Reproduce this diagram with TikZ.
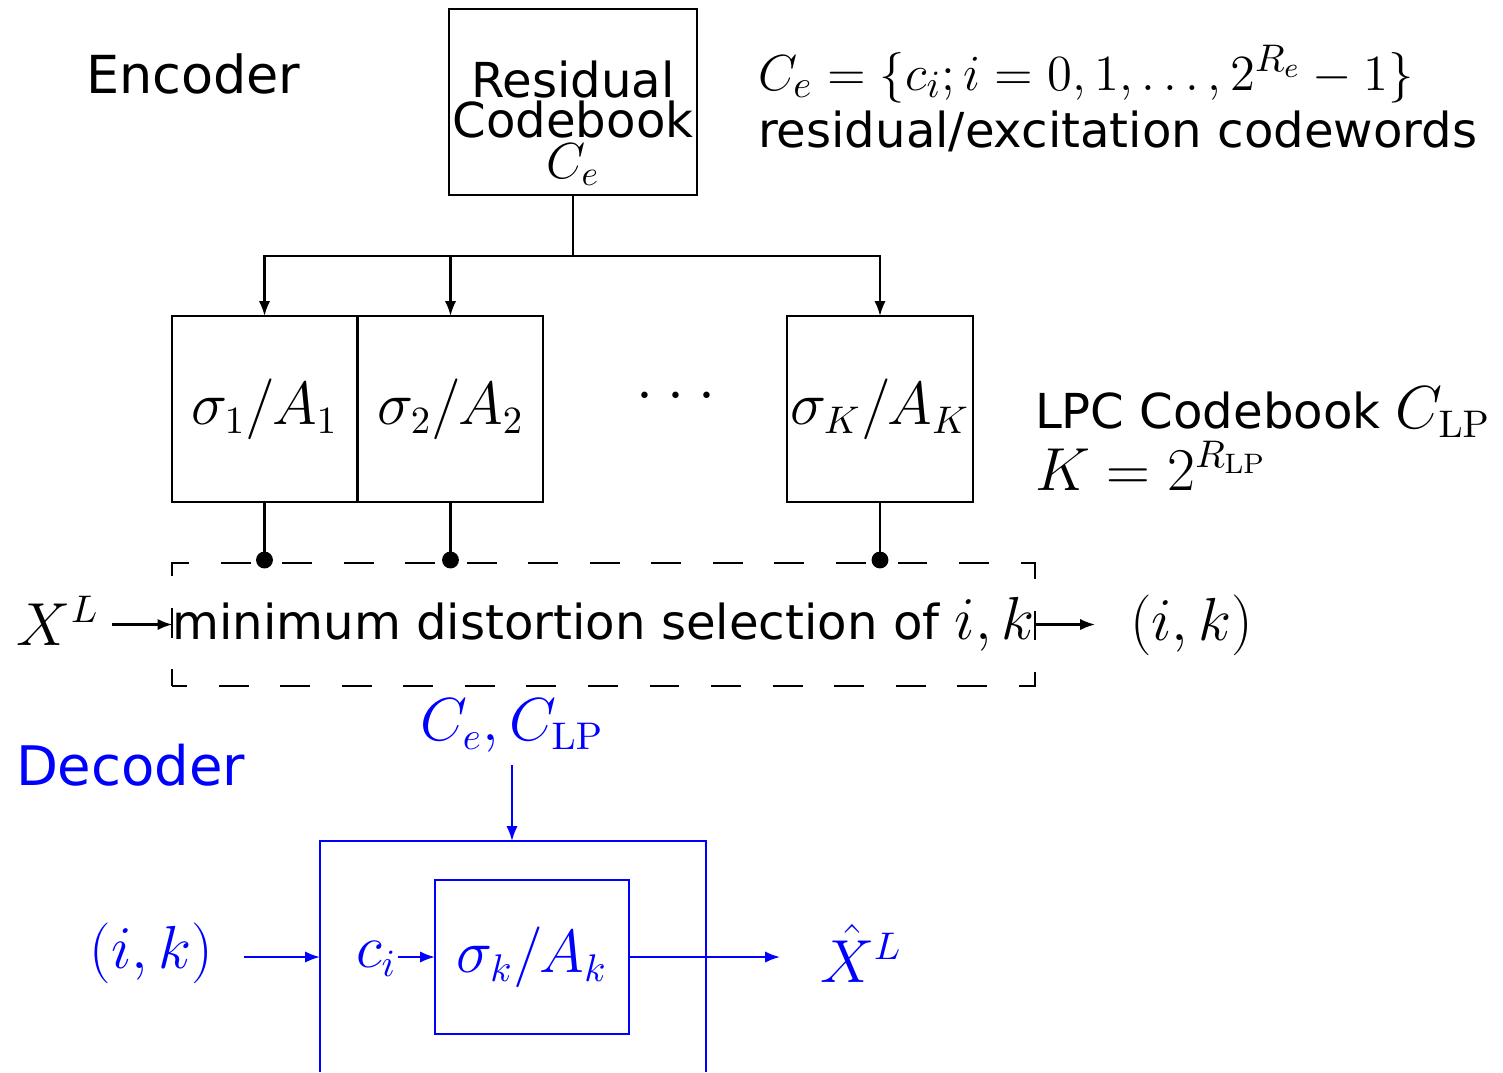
\documentclass[tikz,border=0pt]{standalone}
\usepackage[no-math]{fontspec}
\setmainfont{DejaVu Sans}
\usetikzlibrary{arrows.meta}
\newcommand{\mbg}[1]{{\fontsize{16.2}{18}\selectfont$#1$}}
\begin{document}
\begin{tikzpicture}[x=0.01cm,y=-0.01cm,
  every node/.style={inner sep=0pt, outer sep=0pt},
  txt/.style={font=\fontsize{13.7}{16}\selectfont},
  mth/.style={font=\fontsize{16.2}{18}\selectfont},
  blk/.style={draw, line width=0.65pt},
  wire/.style={line width=0.6pt},
  arr/.style={wire, -{Latex[length=4.2pt,width=3.2pt]}},
  dotnode/.style={circle, fill, minimum size=4.8pt},
  dec/.style={blue},
]
\useasboundingbox (0,0) rectangle (1503,1072);

% ---------------- Encoder ----------------
\node[anchor=base west, font=\fontsize{14.9}{17}\selectfont] (enc) at (86,93) {Encoder};

\node[blk, minimum width=2.48cm, minimum height=1.86cm] (cb) at (573,102) {};
\node[txt, anchor=base] (cbl1) at (573,97) {Residual};
\node[txt, anchor=base] (cbl2) at (573,137) {Codebook};
\node[font=\fontsize{14.5}{16}\selectfont, anchor=base] (cbl3) at (573,178) {$C_e$};

\node[anchor=base west, font=\fontsize{15.3}{17}\selectfont] (ceq) at (758,90) {$C_e = \{c_i; i = 0, 1, \ldots, 2^{R_e}-1\}$};
\node[txt, anchor=base west] (cdesc) at (758,147) {residual/excitation codewords};

\node[blk, mth, minimum width=1.85cm, minimum height=1.86cm] (b1) at (264.5,409) {$\sigma_1/A_1$};
\node[blk, mth, minimum width=1.85cm, minimum height=1.86cm] (b2) at (450.5,409) {$\sigma_2/A_2$};
\node[blk, mth, minimum width=1.86cm, minimum height=1.86cm] (bK) at (880,409) {$\sigma_K/A_K$};
\node[font=\fontsize{16.5}{18}\selectfont] (dots) at (676,397) {$\cdotp\mkern1.3mu\cdotp\mkern1.3mu\cdotp$};

\node[txt, anchor=base west] (lpc) at (1035,428) {LPC Codebook \mbg{C_{\mathrm{LP}}}};
\node[mth, anchor=base west] (kdef) at (1035,490) {$K = 2^{R_{\mathrm{LP}}}$};

\coordinate (j) at (573,256);
\draw[wire] (cb.south) -- (j);
\draw[arr] (j) -| (b1.north);
\draw[arr] (j) -| (b2.north);
\draw[arr] (j) -| (bK.north);

\node[draw, line width=0.6pt, dash pattern=on 8.5pt off 9pt, dash phase=4.3pt,
      minimum width=8.59cm, minimum height=1.23cm, txt] (sel) at (603.5,624.5)
      {minimum distortion selection of \mbg{i,k}};

\node[dotnode] (d1) at (264.5,560) {};
\node[dotnode] (d2) at (450.5,560) {};
\node[dotnode] (dK) at (880,560) {};
\draw[wire] (b1.south) -- (d1);
\draw[wire] (b2.south) -- (d2);
\draw[wire] (bK.south) -- (dK);

\node[mth, anchor=base west] (xl) at (17,645) {$X^L$};
\coordinate (xin) at (112,624.5);
\draw[arr] (xin) -- (sel.west);
\coordinate (xout) at (1095,624.5);
\draw[arr] (sel.east) -- (xout);
\node[mth, anchor=base west] (ikout) at (1130,640) {$(i,k)$};

% ---------------- Decoder ----------------
\begin{scope}[dec]
\node[anchor=base west, font=\fontsize{15.5}{18}\selectfont] (decl) at (16,785) {Decoder};
\node[mth, anchor=base] (cc) at (512,740) {$C_e, C_{\mathrm{LP}}$};

\draw[line width=0.65pt] (320,1072) -- (320,841) -- (706,841) -- (706,1072);
\coordinate (otop) at (512,841);
\coordinate (oleft) at (320,957);
\coordinate (cin) at (512,765);
\draw[arr] (cin) -- (otop);

\node[blk, mth, minimum width=1.94cm, minimum height=1.54cm] (inner) at (532,957) {$\sigma_k/A_k$};

\node[mth, anchor=base west] (ikin) at (90,968) {$(i,k)$};
\coordinate (din) at (244,957);
\draw[arr] (din) -- (oleft);

\node[mth, anchor=base west] (ci) at (356,967) {$c_i$};
\coordinate (cist) at (398,957);
\draw[arr] (cist) -- (inner.west);

\coordinate (dout) at (780,957);
\draw[arr] (inner.east) -- (dout);
\node[mth, anchor=base west] (xhat) at (820,982) {$\hat{X}^L$};
\end{scope}
\end{tikzpicture}
\end{document}
